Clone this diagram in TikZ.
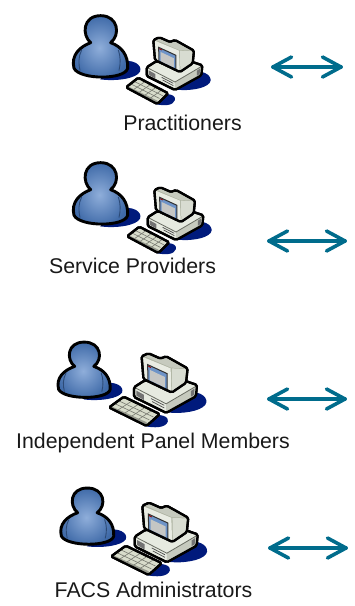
\documentclass[tikz,border=0pt]{standalone}
\usepackage{fontspec}
\setmainfont{Liberation Sans}
\usetikzlibrary{calc}
\definecolor{arrowteal}{HTML}{006C8C}
\definecolor{shadownavy}{HTML}{001A7C}
\definecolor{bodylight}{HTML}{8FAEDA}
\definecolor{bodydark}{HTML}{3F6AA8}
\definecolor{casecream}{HTML}{E6EAE0}
\definecolor{caseshade}{HTML}{AEB3A2}
\definecolor{keycream}{HTML}{D8DCCB}
\definecolor{screenblue}{HTML}{6E94C8}
\tikzset{
  x=1pt,y=-1pt,
  personline/.style={draw=black,line width=2.9pt,line join=round},
  pcline/.style={draw=black,line width=2.3pt,line join=round,rounded corners=1.5pt},
  seam/.style={draw=black!70,line width=.7pt},
  label/.style={font=\fontsize{21.3}{24}\selectfont,inner sep=0pt,text=black!90},
  dbl/.style={draw=arrowteal,line width=3.6pt,line cap=round,line join=round},
  personicon/.pic={
    \fill[shadownavy] (205,185) .. controls (250,175) and (278,195) .. (270,215) .. controls (260,235) and (200,245) .. (150,238) -- cycle;
    \path[personline,inner color=bodylight,outer color=bodydark]
      (122,128) .. controls (95,105) and (98,47) .. (152,47) .. controls (205,47) and (212,105) .. (182,128)
      .. controls (215,140) and (235,165) .. (233,205) .. controls (225,240) and (90,240) .. (72,205)
      .. controls (62,165) and (90,140) .. (122,128) -- cycle;
    \draw[draw=bodydark!70!black,line width=.9pt] (95,150) .. controls (85,170) and (85,190) .. (90,212);
    \draw[draw=bodydark!70!black,line width=.9pt] (205,150) .. controls (212,170) and (212,190) .. (207,212);
  },
  pcicon/.pic={
    \fill[shadownavy] (235,125) .. controls (265,125) and (285,150) .. (262,165) .. controls (240,180) and (190,183) .. (165,178) -- cycle;
    % base
    \path[pcline,fill=casecream] (80,112) -- (108,94) -- (218,96) -- (247,106) -- (244,136) -- (165,180) -- (80,138) -- cycle;
    \fill[caseshade!70!white] (165,156) -- (245,110) -- (243,135) -- (165,178) -- cycle;
    \draw[pcline,rounded corners=0pt,line width=.8pt,draw=caseshade!60!black] (82,113) -- (165,156) -- (245,109);
    \fill[black!55] (86,121) -- (106,132) -- (106,146) -- (86,134) -- cycle;
    \fill[black!55] (231,122) -- (240,116) -- (239,132) -- (231,137) -- cycle;
    \draw[seam] (125,142) -- (160,160);
    \draw[seam] (128,150) -- (160,167);
    \path[pcline,fill=none] (80,112) -- (108,94) -- (218,96) -- (247,106) -- (244,136) -- (165,180) -- (80,138) -- cycle;
    % monitor
    \path[pcline,fill=caseshade] (100,30) -- (118,22) -- (150,36) -- (165,30) -- (222,62) -- (218,100) -- (180,126) -- (105,90) -- cycle;
    \fill[casecream!90!white] (104,32) -- (177,62) -- (179,122) -- (108,89) -- cycle;
    \fill[casecream!75!caseshade] (180,62) -- (218,64) -- (215,99) -- (181,122) -- cycle;
    \fill[caseshade!70!white] (108,30) -- (118,26) -- (150,40) -- (165,34) -- (216,62) -- (178,60) -- cycle;
    \draw[draw=black!80,line width=1pt,fill=screenblue] (116,52) -- (168,76) -- (168,122) -- (117,98) -- cycle;
    \fill[casecream!55!black!45!white] (122,66) -- (162,85) -- (162,113) -- (122,94) -- cycle;
    \draw[draw=red!60!black,line width=.9pt] (118,56) -- (125,60);
    \path[pcline,fill=none] (100,30) -- (118,22) -- (150,36) -- (165,30) -- (222,62) -- (218,100) -- (180,126) -- (105,90) -- cycle;
  },
  keyicon/.pic={
    \fill[shadownavy] (100,205) .. controls (125,185) and (170,190) .. (165,210) .. controls (160,228) and (130,228) .. (105,222) -- cycle;
    \path[pcline,fill=keycream] (18,172) -- (55,143) -- (145,190) -- (112,222) -- cycle;
    \fill[keycream!70!black] (18,172) -- (112,222) -- (112,212) -- (22,168) -- cycle;
    \foreach \t in {.2,.4,.6,.8}{
      \draw[draw=keycream!55!black,line width=.6pt] ($(24,170)!\t!(108,213)$) -- ($(56,148)!\t!(140,190)$);
    }
    \foreach \t in {.33,.66}{
      \draw[draw=keycream!55!black,line width=.6pt] ($(24,170)!\t!(56,148)$) -- ($(108,213)!\t!(140,190)$);
    }
    \path[pcline,fill=none] (18,172) -- (55,143) -- (145,190) -- (112,222) -- cycle;
  }
}
\newcommand{\twoway}[5]{% name, xl, xr, yl, yr
  \coordinate (#1l) at (#2,#4);
  \coordinate (#1r) at (#3,#5);
  \draw[dbl] (#1l) -- (#1r);
  \draw[dbl] ($(#1l)+(18.5,-10)$) -- (#1l) -- ($(#1l)+(18.5,10)$);
  \draw[dbl] ($(#1r)+(-18.5,-10)$) -- (#1r) -- ($(#1r)+(-18.5,10)$);
}
\begin{document}
\begin{tikzpicture}
\useasboundingbox (0,0) rectangle (354,606);
% row 1
\pic[shift={(50,0)},scale=.3333] {personicon};
\pic[shift={(120,30)},scale=.3333] {keyicon};
\pic[shift={(120,30)},scale=.3333] {pcicon};
\node[label] (practitioners) at (182.5,122.5) {Practitioners};
\twoway{a}{273}{341}{67}{67}
% row 2
\pic[shift={(50,147)},scale=.3333] {personicon};
\pic[shift={(121,179)},scale=.3333] {keyicon};
\pic[shift={(121,180)},scale=.3333] {pcicon};
\node[label] (providers) at (132.5,266) {Service Providers};
\twoway{b}{269}{345}{241}{241}
% row 3
\pic[shift={(35.6,328)},xscale=.32,yscale=.3] {personicon};
\pic[shift={(101.8,343.8)},xscale=.4,yscale=.37] {keyicon};
\pic[shift={(103.9,345)},scale=.377] {pcicon};
\node[label] (panel) at (153,443) {Independent Panel Members};
\twoway{c}{269}{345}{399}{399}
% row 4
\pic[shift={(38,473.7)},xscale=.325,yscale=.305] {personicon};
\pic[shift={(103.8,492.8)},xscale=.4,yscale=.37] {keyicon};
\pic[shift={(104.6,494.4)},scale=.377] {pcicon};
\node[label] (facs) at (153.5,590) {FACS Administrators};
\twoway{d}{270}{346}{548}{548}
\end{tikzpicture}
\end{document}
